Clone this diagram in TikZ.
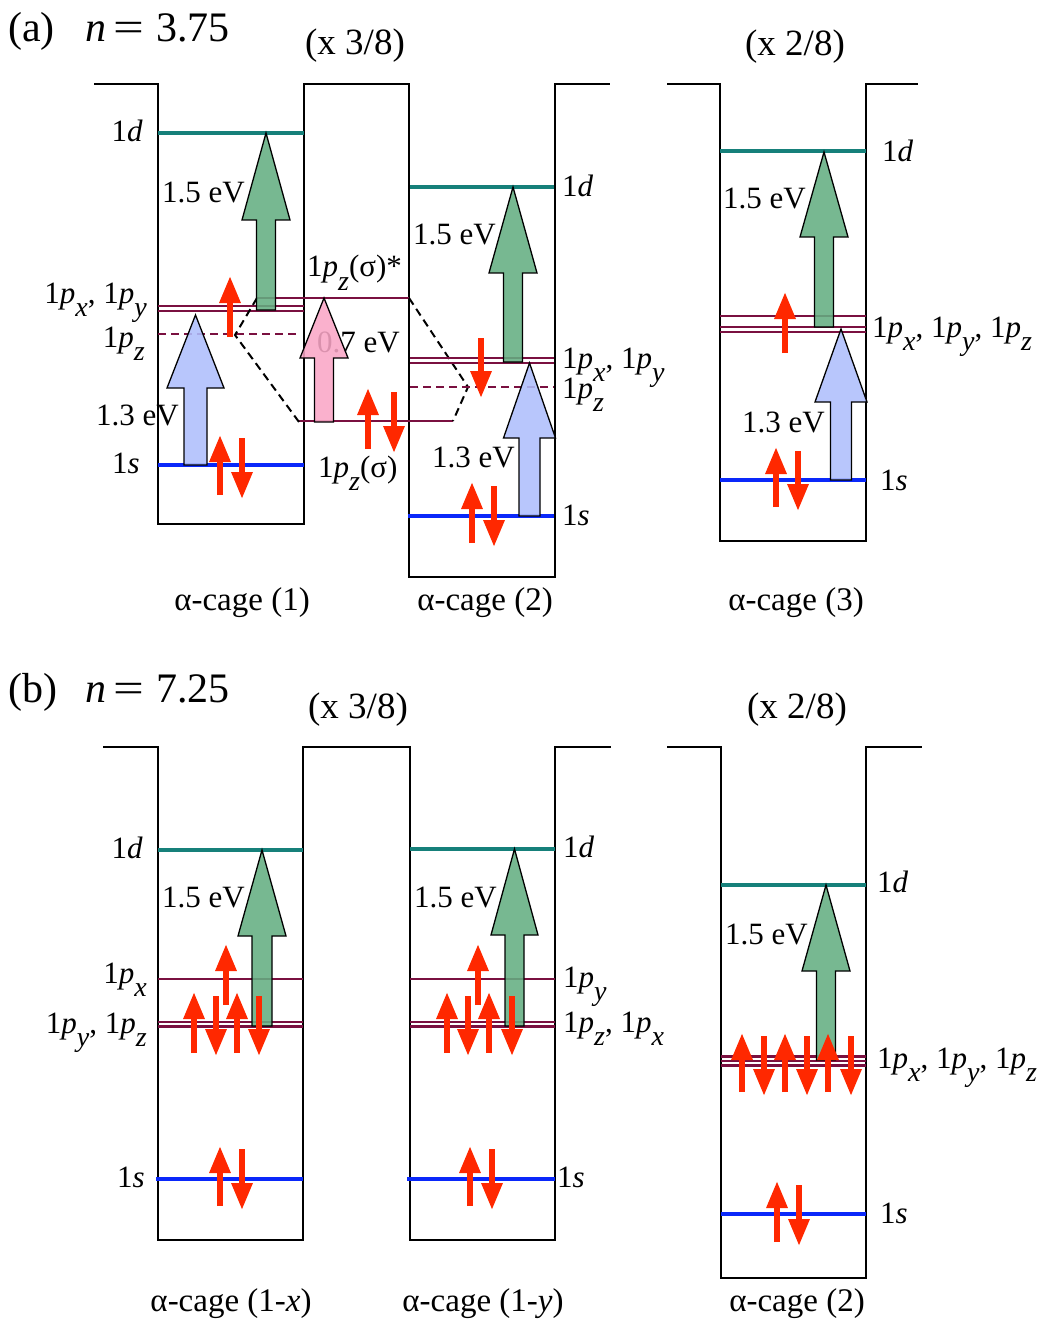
\documentclass[tikz,border=0pt]{standalone}
\usepackage{graphicx}
\usepackage{fontspec}
\setmainfont{Liberation Serif}
\usetikzlibrary{arrows.meta}
\definecolor{lvteal}{RGB}{22,128,122}
\definecolor{lvmaroon}{RGB}{122,16,64}
\definecolor{lvblue}{RGB}{10,40,250}
\definecolor{spinred}{RGB}{255,40,0}
\definecolor{bgreen}{RGB}{100,174,130}
\definecolor{bblue}{RGB}{174,190,252}
\definecolor{bpink}{RGB}{249,166,198}
\newcommand\sub[1]{\raisebox{-0.42em}{\fontsize{28}{28}\selectfont\textit{#1}}}
\newcommand\pp[1]{1\textit{p}\sub{#1}}
\tikzset{
 wall/.style={draw=black,line width=2pt},
 dlev/.style={draw=lvteal,line width=3.4pt},
 plev/.style={draw=lvmaroon,line width=2.8pt},
 pdash/.style={draw=lvmaroon,line width=2.8pt,dash pattern=on 8pt off 5pt},
 slev/.style={draw=lvblue,line width=4pt},
 corr/.style={draw=black,line width=2pt,dash pattern=on 8pt off 5pt},
 spinarrow/.style={draw=spinred,line width=6pt,-{Triangle[length=27pt,width=20pt]}},
 lbl/.style={inner sep=0pt,font=\fontsize{31}{36}\selectfont},
 cagelbl/.style={inner sep=0pt,font=\fontsize{33}{38}\selectfont,anchor=base},
 title/.style={inner sep=0pt,font=\fontsize{42}{48}\selectfont,anchor=base west},
 mult/.style={inner sep=0pt,font=\fontsize{37}{42}\selectfont,anchor=base},
 block/.style={draw=black,line width=1.3pt,fill opacity=0.88},
}
\newcommand\blockarrow[7]{\filldraw[block,fill=#1] (#2-#6,#3) -- (#2-#6,#5) -- (#2-#7,#5) -- (#2,#4) -- (#2+#7,#5) -- (#2+#6,#5) -- (#2+#6,#3) -- cycle;}
\newcommand\spin[3]{\draw[spinarrow] (#1,#2) -- (#1,#3);}
\begin{document}
\begin{tikzpicture}[x=1pt,y=-1pt]
\useasboundingbox (0,0) rectangle (1056,1329);
% ===================== panel (a) =====================
\draw[wall] (94,84) -- (158,84) -- (158,524) -- (304,524) -- (304,84) -- (409,84) -- (409,577) -- (555,577) -- (555,84) -- (610,84);
\draw[wall] (667,84) -- (720,84) -- (720,541) -- (866,541) -- (866,84) -- (918,84);
% cage 1 levels
\draw[dlev] (158,133) -- (304,133);
\draw[plev] (158,306) -- (304,306);
\draw[plev] (158,311) -- (304,311);
\draw[pdash] (158,334) -- (300,334);
\draw[slev] (158,465) -- (304,465);
% bonding levels
\draw[plev] (257,298) -- (409,298);
\draw[plev] (299,421) -- (453,421);
\draw[corr] (257,298) -- (235,335) -- (299,422);
\draw[corr] (409,298) -- (468,387) -- (453,421);
% cage 2 levels
\draw[dlev] (410,187) -- (554,187);
\draw[plev] (410,358) -- (554,358);
\draw[plev] (410,363) -- (554,363);
\draw[pdash] (410,387) -- (554,387);
\draw[slev] (408,516) -- (554,516);
% cage 3 levels
\draw[dlev] (720,151) -- (866,151);
\draw[plev] (720,316) -- (866,316);
\draw[plev] (720,327) -- (866,327);
\draw[plev] (720,332) -- (866,332);
\draw[slev] (720,480) -- (866,480);
% texts (a)
\node[title] (ta) at (8,42) {(a)};
\node[title] (tan) at (85,42) {\textit{n}};
\node[title,anchor=base] (taeq) at (129,42) {\scalebox{1.3}[1]{=}};
\node[title] (tanum) at (156,42) {3.75};
\node[mult] (ma1) at (355,55) {(x 3/8)};
\node[mult] (ma2) at (795,56) {(x 2/8)};
\node[lbl,anchor=base east] (c1d) at (143,142) {1\textit{d}};
\node[lbl,anchor=base east] (c1pxy) at (147,303) {\pp{x}, \pp{y}};
\node[lbl,anchor=base east] (c1pz) at (145,347) {\pp{z}};
\node[lbl,anchor=base west] (c1e13) at (96,425) {1.3 eV};
\node[lbl,anchor=base east] (c1s) at (140,473) {1\textit{s}};
\node[lbl,anchor=base west] (c1e15) at (162,203) {1.5 eV};
\node[lbl,anchor=base west] (sigs) at (307,277) {\pp{z}(σ)*};
\node[lbl,anchor=base west] (e07) at (317,352) {0.7 eV};
\node[lbl,anchor=base west] (sig) at (318,477) {\pp{z}(σ)};
\node[cagelbl] (lab1) at (242,610) {α-cage (1)};
\node[lbl,anchor=base west] (c2d) at (562,197) {1\textit{d}};
\node[lbl,anchor=base west] (c2pxy) at (562,368) {\pp{x}, \pp{y}};
\node[lbl,anchor=base west] (c2pz) at (562,398) {\pp{z}};
\node[lbl,anchor=base west] (c2s) at (562,525) {1\textit{s}};
\node[lbl,anchor=base west] (c2e15) at (413,245) {1.5 eV};
\node[lbl,anchor=base west] (c2e13) at (432,467) {1.3 eV};
\node[cagelbl] (lab2) at (485,610) {α-cage (2)};
\node[lbl,anchor=base west] (c3d) at (882,162) {1\textit{d}};
\node[lbl,anchor=base west] (c3p) at (872,337) {\pp{x}, \pp{y}, \pp{z}};
\node[lbl,anchor=base west] (c3s) at (880,490) {1\textit{s}};
\node[lbl,anchor=base west] (c3e15) at (723,209) {1.5 eV};
\node[lbl,anchor=base west] (c3e13) at (742,432) {1.3 eV};
\node[cagelbl] (lab3) at (796,610) {α-cage (3)};
% block arrows (a)
\blockarrow{bgreen}{266}{310}{133}{220}{9.5}{24}
\blockarrow{bblue}{195.5}{465}{315}{388}{11.5}{28.5}
\blockarrow{bpink}{324}{422}{298}{358}{9.5}{24}
\blockarrow{bgreen}{513}{362}{187}{273}{9.5}{24}
\blockarrow{bblue}{529.5}{516}{363}{438}{10.5}{26}
\blockarrow{bgreen}{824}{327}{152}{237}{9.5}{24}
\blockarrow{bblue}{841}{480}{329}{402}{10.5}{26}
% spins (a)
\spin{230}{337}{276}
\spin{220}{495}{435}
\spin{242}{438}{499}
\spin{368}{449}{388}
\spin{394}{392}{453}
\spin{481}{338}{398}
\spin{472}{543}{482}
\spin{494}{486}{547}
\spin{785}{353}{292}
\spin{776}{507}{447}
\spin{798}{451}{511}
% ===================== panel (b) =====================
\draw[wall] (103,747) -- (158,747) -- (158,1240) -- (303,1240) -- (303,747) -- (410,747) -- (410,1240) -- (555,1240) -- (555,747) -- (611,747);
\draw[wall] (667,747) -- (721,747) -- (721,1278) -- (866,1278) -- (866,747) -- (922,747);
\draw[dlev] (158,850) -- (303,850);
\draw[plev] (158,979) -- (303,979);
\draw[plev] (158,1022) -- (303,1022);
\draw[plev] (158,1026.5) -- (303,1026.5);
\draw[slev] (156,1179) -- (303,1179);
\draw[dlev] (410,849) -- (555,849);
\draw[plev] (410,979) -- (555,979);
\draw[plev] (410,1022) -- (555,1022);
\draw[plev] (410,1026.5) -- (555,1026.5);
\draw[slev] (407,1179) -- (555,1179);
\draw[dlev] (721,885) -- (866,885);
\draw[plev,line width=2.2pt] (721,1056.5) -- (866,1056.5);
\draw[plev,line width=2.2pt] (721,1061) -- (866,1061);
\draw[plev,line width=2.2pt] (721,1065.5) -- (866,1065.5);
\draw[slev] (721,1214) -- (866,1214);
% texts (b)
\node[title] (tb) at (8,702) {(b)};
\node[title] (tbn) at (85,702) {\textit{n}};
\node[title,anchor=base] (tbeq) at (129,702) {\scalebox{1.3}[1]{=}};
\node[title] (tbnum) at (156,702) {7.25};
\node[mult] (mb1) at (358,718) {(x 3/8)};
\node[mult] (mb2) at (797,718) {(x 2/8)};
\node[lbl,anchor=base east] (x1d) at (143,858) {1\textit{d}};
\node[lbl,anchor=base east] (x1px) at (147,983) {\pp{x}};
\node[lbl,anchor=base east] (x1pyz) at (147,1033) {\pp{y}, \pp{z}};
\node[lbl,anchor=base west] (x1e) at (162,907) {1.5 eV};
\node[lbl,anchor=base east] (x1s) at (145,1187) {1\textit{s}};
\node[cagelbl] (labx) at (231,1311) {α-cage (1-\textit{x})};
\node[lbl,anchor=base west] (y1d) at (563,857) {1\textit{d}};
\node[lbl,anchor=base west] (y1py) at (563,987) {\pp{y}};
\node[lbl,anchor=base west] (y1pzx) at (563,1032) {\pp{z}, \pp{x}};
\node[lbl,anchor=base west] (y1e) at (414,907) {1.5 eV};
\node[lbl,anchor=base west] (y1s) at (557,1187) {1\textit{s}};
\node[cagelbl] (laby) at (483,1311) {α-cage (1-\textit{y})};
\node[lbl,anchor=base west] (z2d) at (877,892) {1\textit{d}};
\node[lbl,anchor=base west] (z2p) at (877,1068) {\pp{x}, \pp{y}, \pp{z}};
\node[lbl,anchor=base west] (z2s) at (880,1223) {1\textit{s}};
\node[lbl,anchor=base west] (z2e) at (725,944) {1.5 eV};
\node[cagelbl] (labz) at (797,1311) {α-cage (2)};
% block arrows (b)
\blockarrow{bgreen}{262}{1026}{850}{936}{10}{24}
\blockarrow{bgreen}{514.5}{1026}{849}{935}{9.5}{23.5}
\blockarrow{bgreen}{826}{1060}{885}{971}{9.5}{24}
% spins (b)
\spin{226}{1005}{944}
\spin{194}{1053}{992}
\spin{216}{996}{1056}
\spin{237}{1053}{992}
\spin{259}{996}{1056}
\spin{220}{1206}{1146}
\spin{242}{1149}{1210}
\spin{478}{1005}{944}
\spin{447}{1053}{992}
\spin{468}{996}{1056}
\spin{489}{1053}{992}
\spin{512}{996}{1056}
\spin{470}{1206}{1146}
\spin{492}{1149}{1210}
\spin{742}{1092}{1033}
\spin{764}{1036}{1096}
\spin{785}{1092}{1033}
\spin{807}{1036}{1096}
\spin{828}{1092}{1033}
\spin{851}{1036}{1096}
\spin{777}{1242}{1181}
\spin{799}{1185}{1246}
\end{tikzpicture}
\end{document}
